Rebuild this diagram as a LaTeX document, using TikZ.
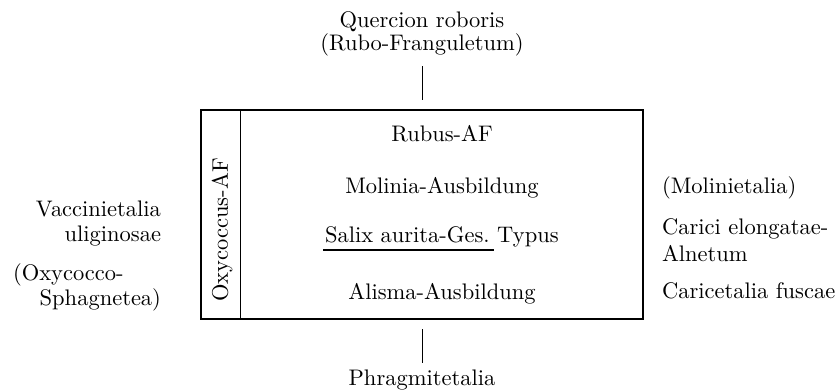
\documentclass[tikz,border=0pt]{standalone}
\usepackage{fontspec}
\setmainfont{lmroman10-regular.otf}
\begin{document}
\begin{tikzpicture}[x=1pt,y=-1pt,
  every node/.style={inner sep=0pt,outer sep=0pt,font=\fontsize{22.5}{27}\selectfont},
  lbl/.style={anchor=base},
  lblr/.style={anchor=base east},
  lbll/.style={anchor=base west},
  frame/.style={draw,line width=1.6pt,minimum width=442pt,minimum height=209pt},
  thin/.style={line width=0.7pt},
  conn/.style={line width=0.7pt},
  ul/.style={line width=1.8pt}]
\useasboundingbox (0,0) rectangle (836,391);
% top
\node[lbl] (quer) at (422,27) {Quercion roboris};
\node[lbl] (rubo) at (422,50) {(Rubo-Franguletum)};
% box
\node[frame] (box) at (422,214.5) {};
\draw[thin] ([xshift=39pt]box.north west) coordinate (inA) -- ([xshift=39pt]box.south west) coordinate (inB);
\node[rotate=90] (oxy) at (222,230) {Oxycoccus-AF};
\node[lbl] (rubus) at (442,141) {Rubus-AF};
\node[lbl] (molinia) at (442,193) {Molinia-Ausbildung};
\node[anchor=base west] (salix) at (325,242) {Salix aurita-Ges.};
\node[anchor=base west] (typus) at ([xshift=7.5pt]salix.base east) {Typus};
\draw[ul] ([xshift=-2pt,yshift=-8pt]salix.base west) -- ([xshift=4pt,yshift=-8pt]salix.base east);
\node[lbl] (alisma) at (442,299) {Alisma-Ausbildung};
% connectors
\draw[conn] ([yshift=-10.4pt]rubo.south) -- ([yshift=10pt]box.north);
\node[lbl] (phrag) at (422,385) {Phragmitetalia};
\draw[conn] ([yshift=-10pt]box.south) -- ([yshift=6.4pt]phrag.north);
% left
\node[lblr] (vacc) at (161,216) {Vaccinietalia};
\node[lblr] (ulig) at (161,241) {uliginosae};
\node[lbll] (oxyc) at (13,280) {(Oxycocco-};
\node[lblr] (sphag) at (161,305) {Sphagnetea)};
% right
\node[lbll] (molt) at (662,193) {(Molinietalia)};
\node[lbll] (caric) at (662,234) {Carici elongatae-};
\node[lbll] (alnet) at (662,261) {Alnetum};
\node[lbll] (caricf) at (662,298) {Caricetalia fuscae};
\end{tikzpicture}
\end{document}
